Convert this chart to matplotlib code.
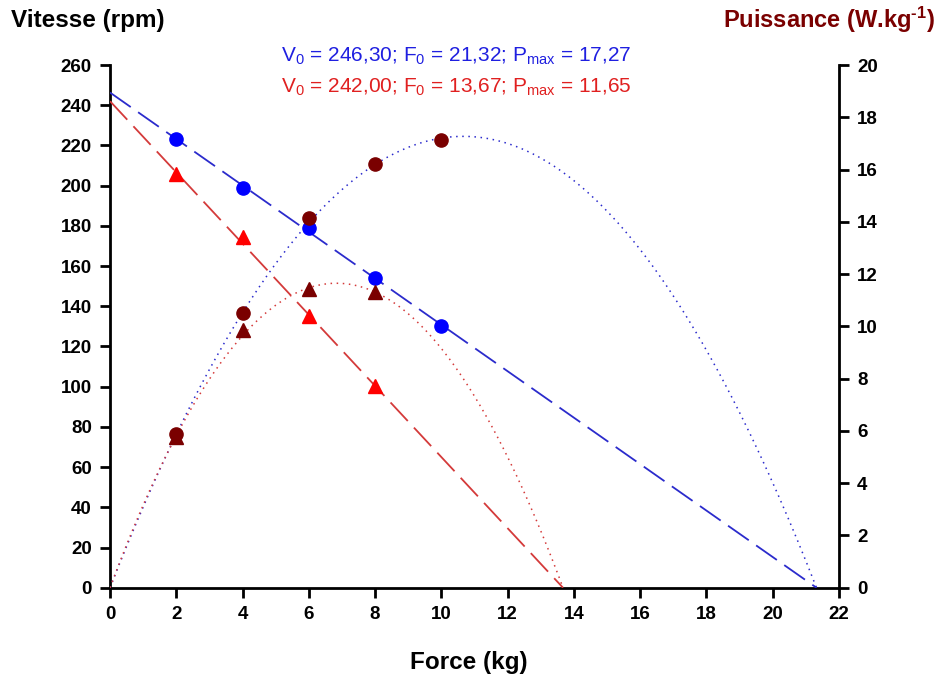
import numpy as np
import matplotlib
matplotlib.use("Agg")
import matplotlib.pyplot as plt

plt.rcParams['font.family'] = ['Liberation Sans', 'DejaVu Sans']
plt.rcParams['mathtext.fontset'] = 'custom'
plt.rcParams['mathtext.rm'] = 'Liberation Sans'
plt.rcParams['mathtext.it'] = 'Liberation Sans:italic'
plt.rcParams['mathtext.bf'] = 'Liberation Sans:bold'

# Data
force = [2, 4, 6, 8, 10]
vit_blue = [223.1, 199.0, 178.8, 153.9, 130.2]
force_red = [2, 4, 6, 8]
vit_red = [205.7, 174.6, 135.3, 100.3]
pow_blue = [5.87, 10.50, 14.16, 16.21, 17.13]
pow_red = [5.78, 9.86, 11.43, 11.33]

V0_blue, F0_blue, Pmax_blue = 246.30, 21.32, 17.27
V0_red, F0_red, Pmax_red = 242.00, 13.67, 11.65

xticks = list(range(0, 23, 2))
yticks_left = list(range(0, 261, 20))
yticks_right = list(range(0, 21, 2))

blue = '#0000FF'
blue_line = '#2B2BCC'
red = '#FF0000'
red_line = '#D43A3A'
dark = '#7A0000'

fig = plt.figure(figsize=(9.38, 6.8), dpi=100)
ax = fig.add_axes([0.1173, 0.1357, 0.7772, 0.7687])
ax2 = ax.twinx()

# fitted lines
fb = np.linspace(0, F0_blue, 300)
fr = np.linspace(0, F0_red, 300)
ax2.plot(fb, V0_blue * (1 - fb / F0_blue) * 20 / 260, color=blue_line, lw=1.3, dashes=(14, 5), zorder=2)
ax2.plot(fr, V0_red * (1 - fr / F0_red) * 20 / 260, color=red_line, lw=1.3, dashes=(14, 5), zorder=2)
ax2.plot(fb, 4 * Pmax_blue * (fb / F0_blue) * (1 - fb / F0_blue), color=blue_line, lw=1.1,
         linestyle=(0, (1, 3)), zorder=2)
ax2.plot(fr, 4 * Pmax_red * (fr / F0_red) * (1 - fr / F0_red), color=red_line, lw=1.1,
         linestyle=(0, (1, 3)), zorder=2)

# markers (velocity markers drawn via left-axis transform on ax2 to keep ordering)
ax2.plot(force, vit_blue, 'o', color=blue, ms=9.5, zorder=3, clip_on=False, transform=ax.transData)
ax2.plot(force_red, vit_red, '^', color=red, ms=10, zorder=3, clip_on=False, transform=ax.transData)
ax2.plot(force_red, pow_red, '^', color=dark, ms=10, zorder=3, clip_on=False)
ax2.plot(force, pow_blue, 'o', color=dark, ms=9.5, zorder=4, clip_on=False)

ax.set_xlim(0, 22)
ax.set_ylim(0, 260)
ax2.set_ylim(0, 20)
ax.set_xticks(xticks)
ax.set_yticks(yticks_left)
ax2.set_yticks(yticks_right)

for a in (ax, ax2):
    a.spines['top'].set_visible(False)
    for s in a.spines.values():
        s.set_linewidth(2)
    a.tick_params(width=2, length=7, direction='out', labelsize=13.5, pad=6)
    for lab in a.get_xticklabels() + a.get_yticklabels():
        lab.set_fontweight('bold')
ax.spines['right'].set_visible(False)
ax2.spines['left'].set_visible(False)
ax2.spines['bottom'].set_visible(False)

fig.text(0.012, 0.970, 'Vitesse (rpm)', fontsize=17.5, fontweight='bold', ha='left', va='center')
fig.text(0.997, 0.970, 'Puissance (W.kg$^{\\mathbf{\u20101}}$)', fontsize=17,
         fontweight='bold', color=dark, ha='right', va='center')
fig.text(0.5, 0.025, 'Force (kg)', fontsize=17.5, fontweight='bold', ha='center', va='center')

fig.text(0.486, 0.917, 'V$_0$ = 246,30; F$_0$ = 21,32; P$_{\\mathrm{max}}$ = 17,27',
         color='#1F1FE0', fontsize=15, ha='center', va='center')
fig.text(0.486, 0.872, 'V$_0$ = 242,00; F$_0$ = 13,67; P$_{\\mathrm{max}}$ = 11,65',
         color='#E02020', fontsize=15, ha='center', va='center')

fig.savefig('out.png', dpi=100)
